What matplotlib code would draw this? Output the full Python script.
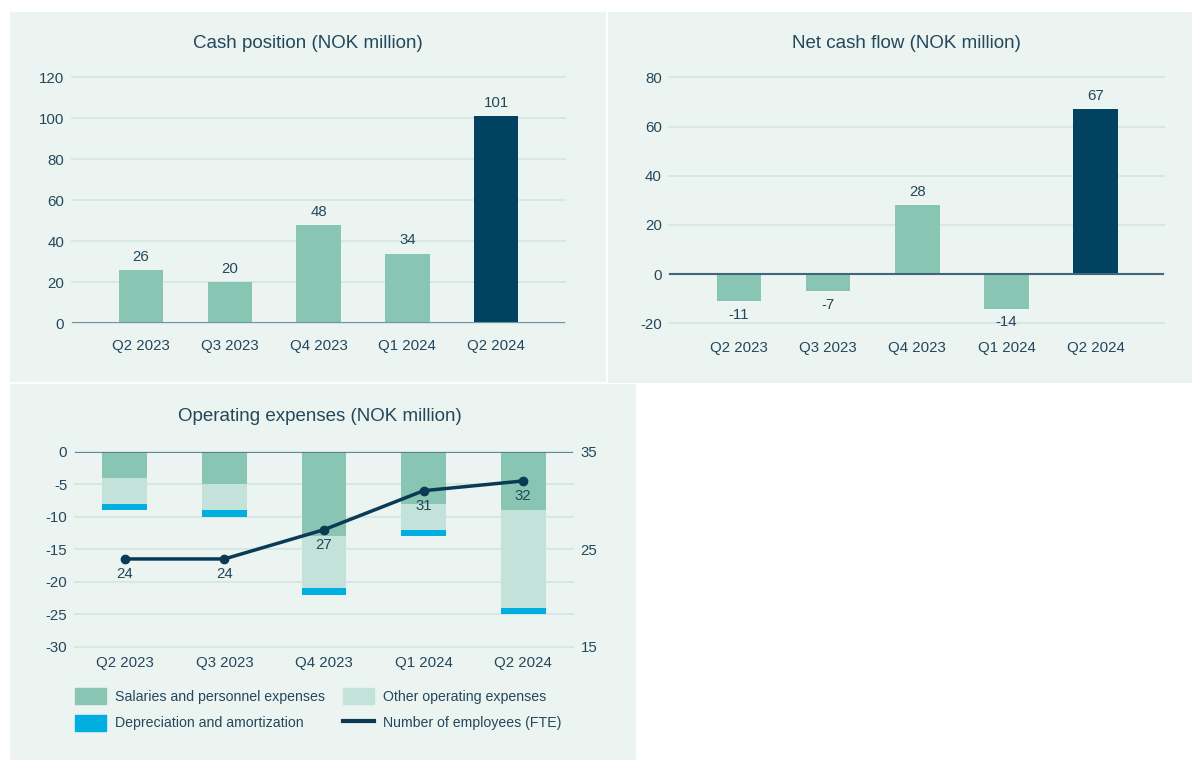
import matplotlib.pyplot as plt
from matplotlib.patches import Rectangle, Patch
from matplotlib.lines import Line2D

plt.rcParams['font.family'] = ['Liberation Sans', 'DejaVu Sans']
plt.rcParams['axes.unicode_minus'] = False

quarters = ["Q2 2023", "Q3 2023", "Q4 2023", "Q1 2024", "Q2 2024"]
cash_position = [26, 20, 48, 34, 101]
net_cash_flow = [-11, -7, 28, -14, 67]
salaries = [4, 5, 13, 8, 9]
other_opex = [4, 4, 8, 4, 15]
depreciation = [1, 1, 1, 1, 1]
employees = [24, 24, 27, 31, 32]

BG = "#ecf4f2"
TXT = "#23475b"
GRID = "#d5e8e3"
LIGHT = "#88c5b3"
DARK = "#00425f"
OTHER = "#c3e3da"
DEP = "#00aee0"
LINE = "#0b3a55"
FS = 10.8

W, H = 1192, 760
fig = plt.figure(figsize=(W / 100, H / 100), dpi=100)
fig.patch.set_facecolor("white")

def px_rect(x0, y0, x1, y1):
    fig.patches.append(Rectangle((x0 / W, 1 - y1 / H), (x1 - x0) / W, (y1 - y0) / H,
                                 transform=fig.transFigure, facecolor=BG,
                                 edgecolor="none", zorder=-10))

def px_axes(x0, y0, x1, y1):
    return fig.add_axes([x0 / W, 1 - y1 / H, (x1 - x0) / W, (y1 - y0) / H])

px_rect(10, 12, 606, 382)
px_rect(608, 12, 1192, 383)
px_rect(10, 384, 636, 760)

def style(ax, yticks, xpad):
    ax.set_facecolor("none")
    for s in ax.spines.values():
        s.set_visible(False)
    ax.set_yticks(yticks)
    ax.tick_params(axis="both", length=0, labelsize=FS, labelcolor=TXT)
    ax.tick_params(axis="y", pad=5.5)
    ax.tick_params(axis="x", pad=xpad)
    for t in yticks:
        ax.axhline(t, color=GRID, lw=1.5, zorder=0, clip_on=False)

x = range(len(quarters))
colors = [LIGHT] * 4 + [DARK]

# Cash position
ax1 = px_axes(71.7, 77.3, 564.5, 323.3)
style(ax1, [0, 20, 40, 60, 80, 100, 120], 11.5)
ax1.bar(x, cash_position, width=0.5, color=colors, zorder=2)
ax1.axhline(0, color="#6f94a0", lw=2.2, zorder=3)
ax1.set_xlim(-0.78, 4.77)
ax1.set_ylim(0, 120)
ax1.set_xticks(list(x), quarters)
for i, v in enumerate(cash_position):
    ax1.annotate(str(v), (i, v), xytext=(0, 4.5), textcoords="offset points",
                 ha="center", va="bottom", fontsize=FS, color=TXT)
fig.text(308 / W, 1 - 44 / H, "Cash position (NOK million)", ha="center", va="center",
         fontsize=13.5, color=TXT)

# Net cash flow
ax2 = px_axes(669.3, 77.3, 1164.4, 323.3)
style(ax2, [-20, 0, 20, 40, 60, 80], 12.5)
ax2.bar(x, net_cash_flow, width=0.5, color=colors, zorder=2)
ax2.axhline(0, color="#3f6679", lw=1.5, zorder=3)
ax2.set_xlim(-0.78, 4.77)
ax2.set_ylim(-20, 80)
ax2.set_xticks(list(x), quarters)
for i, v in enumerate(net_cash_flow):
    if v >= 0:
        ax2.annotate(str(v), (i, v), xytext=(0, 4.5), textcoords="offset points",
                     ha="center", va="bottom", fontsize=FS, color=TXT)
    else:
        ax2.annotate(str(v), (i, v), xytext=(0, -5), textcoords="offset points",
                     ha="center", va="top", fontsize=FS, color=TXT)
fig.text(906 / W, 1 - 44 / H, "Net cash flow (NOK million)", ha="center", va="center",
         fontsize=13.5, color=TXT)

# Operating expenses
ax3 = px_axes(75, 451.7, 573, 646.7)
style(ax3, [0, -5, -10, -15, -20, -25, -30], 6.5)
neg_sal = [-v for v in salaries]
neg_oth = [-v for v in other_opex]
neg_dep = [-v for v in depreciation]
base2 = neg_sal
base3 = [a + b for a, b in zip(neg_sal, neg_oth)]
ax3.bar(x, neg_sal, width=0.45, color=LIGHT, zorder=2)
ax3.bar(x, neg_oth, bottom=base2, width=0.45, color=OTHER, zorder=2)
ax3.bar(x, neg_dep, bottom=base3, width=0.45, color=DEP, zorder=2)
ax3.axhline(0, color="#4d7189", lw=1.2, zorder=3)
ax3.set_xlim(-0.5, 4.5)
ax3.set_ylim(-30, 0)
ax3.set_xticks(list(x), quarters)

ax4 = ax3.twinx()
ax4.set_facecolor("none")
for s in ax4.spines.values():
    s.set_visible(False)
ax4.set_ylim(15, 35)
ax4.set_yticks([15, 25, 35])
ax4.tick_params(axis="y", length=0, labelsize=FS, labelcolor=TXT, pad=5.5)
ax4.plot(list(x), employees, color=LINE, lw=2.5, marker="o", markersize=6, zorder=4)
for i, v in enumerate(employees):
    ax4.annotate(str(v), (i, v), xytext=(0, -11), textcoords="offset points",
                 ha="center", va="center", fontsize=FS, color=TXT)
fig.text(320 / W, 1 - 416.7 / H, "Operating expenses (NOK million)", ha="center",
         va="center", fontsize=13.5, color=TXT)

leg_kw = dict(loc="upper left", frameon=False, fontsize=10.2, handlelength=2.2,
              handleheight=1.4, labelspacing=0.72, handletextpad=0.6,
              borderaxespad=0, borderpad=0, labelcolor=TXT)
fig.legend([Patch(color=LIGHT), Patch(color=DEP)],
           ["Salaries and personnel expenses", "Depreciation and amortization"],
           bbox_to_anchor=(75 / W, 1 - 688 / H), **leg_kw)
fig.legend([Patch(color=OTHER), Line2D([], [], color=LINE, lw=3)],
           ["Other operating expenses", "Number of employees (FTE)"],
           bbox_to_anchor=(343 / W, 1 - 688 / H), **leg_kw)

fig.savefig("out.png", dpi=100)
